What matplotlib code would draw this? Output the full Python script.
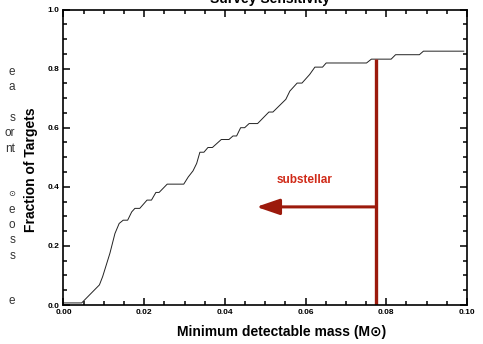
import matplotlib
matplotlib.use("Agg")
import matplotlib.pyplot as plt
from matplotlib.patches import FancyArrowPatch, ArrowStyle
from matplotlib.ticker import MultipleLocator

plt.rcParams['font.family'] = ['Liberation Sans', 'DejaVu Sans']

# Cumulative survey sensitivity curve
mass = [0.0, 0.0045, 0.0089, 0.0097, 0.0115, 0.01275, 0.0138, 0.0148, 0.0159,
        0.0169, 0.0177, 0.0189, 0.0207, 0.0218, 0.0229, 0.0237, 0.0257, 0.0298,
        0.0309, 0.0321, 0.0330, 0.0338, 0.0348, 0.0358, 0.0369, 0.0391, 0.0410,
        0.0420, 0.0429, 0.0439, 0.0449, 0.0460, 0.0481, 0.0509, 0.0519, 0.0551,
        0.0561, 0.0579, 0.0591, 0.0610, 0.0623, 0.0642, 0.0651, 0.0751, 0.0763,
        0.0812, 0.0823, 0.0882, 0.0892, 0.0992]
fraction = [0.007, 0.007, 0.068, 0.096, 0.175, 0.242, 0.276, 0.287, 0.287,
            0.315, 0.327, 0.327, 0.355, 0.355, 0.381, 0.381, 0.409, 0.409,
            0.433, 0.454, 0.479, 0.517, 0.517, 0.533, 0.533, 0.560, 0.560,
            0.572, 0.572, 0.600, 0.600, 0.614, 0.614, 0.653, 0.653, 0.696,
            0.724, 0.751, 0.751, 0.780, 0.805, 0.805, 0.819, 0.819, 0.832,
            0.832, 0.847, 0.847, 0.859, 0.859]

limit_mass = 0.0775
limit_top = 0.832
arrow_y = 0.332
arrow_tip = 0.0478
label_text = "substellar"
label_pos = (0.0597, 0.422)

xticks = [0.00, 0.02, 0.04, 0.06, 0.08, 0.10]
xticklabels = ["0.00", "0.02", "0.04", "0.06", "0.08", "0.10"]
yticks = [0.0, 0.2, 0.4, 0.6, 0.8, 1.0]
yticklabels = ["0.0", "0.2", "0.4", "0.6", "0.8", "1.0"]

margin_fragments = ["e", "a", "", "s", "or", "nt", "", "", "\u2299", "e", "o", "s", "s", "", "", "e"]

W, H = 483, 344
fig = plt.figure(figsize=(W / 100, H / 100), dpi=100)
ax = fig.add_axes([63.5 / W, 1 - 305 / H, (467 - 63.5) / W, (305 - 9.5) / H])

ax.plot(mass, fraction, color='#222222', lw=0.7)

dark_red = '#9c1a0c'
ax.plot([limit_mass, limit_mass], [0, limit_top], color=dark_red, lw=2.4, solid_capstyle='butt')
arr = FancyArrowPatch((limit_mass, arrow_y), (arrow_tip, arrow_y),
                      arrowstyle=ArrowStyle('-|>', head_length=14, head_width=4.8),
                      mutation_scale=1, lw=2.2, color=dark_red,
                      shrinkA=0, shrinkB=0)
ax.add_patch(arr)
ax.text(label_pos[0], label_pos[1], label_text, color='#d02a18', fontsize=8.5,
        fontweight='bold', ha='center', va='center')

ax.set_xlim(0, 0.1)
ax.set_ylim(0, 1.0)
ax.set_xticks(xticks)
ax.set_xticklabels(xticklabels)
ax.set_yticks(yticks)
ax.set_yticklabels(yticklabels)
ax.xaxis.set_minor_locator(MultipleLocator(0.005))
ax.yaxis.set_minor_locator(MultipleLocator(0.05))
ax.tick_params(which='both', direction='in', top=True, right=True, width=1.1)
ax.tick_params(which='major', length=5, labelsize=6, pad=3)
ax.tick_params(which='minor', length=2.8)
for lbl in ax.get_xticklabels() + ax.get_yticklabels():
    lbl.set_fontweight('bold')
for s in ax.spines.values():
    s.set_linewidth(1.2)

fig.text(270 / W, 1 - 2.5 / H, "Survey Sensitivity", ha='center', va='baseline',
         fontsize=10, fontweight='bold')
fig.text(282 / W, 1 - 332 / H, "Minimum detectable mass (M\u2299)", ha='center', va='center',
         fontsize=10, fontweight='bold')
fig.text(31 / W, 1 - 170 / H, "Fraction of Targets", ha='center', va='center',
         rotation=90, fontsize=10, fontweight='bold')

y0 = 72
for i, frag in enumerate(margin_fragments):
    if frag:
        fig.text(15 / W, 1 - (y0 + i * 15.3) / H, frag, ha='right', va='center',
                 fontsize=8.5 if frag != "\u2299" else 6, color='#333333')

fig.savefig("out.png", dpi=100)
